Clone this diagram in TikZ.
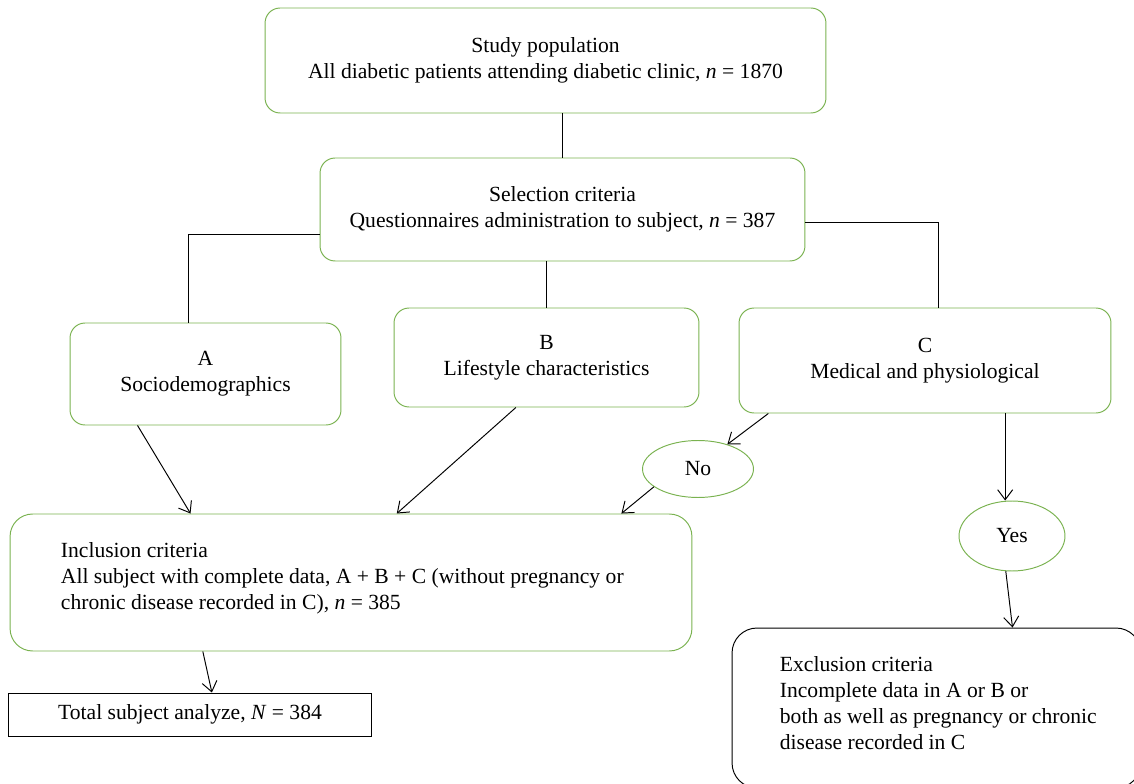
\documentclass[tikz,border=0pt]{standalone}
\usepackage{fontspec}
\setmainfont{Liberation Serif}
\usetikzlibrary{shapes.geometric,calc,arrows.meta}
\definecolor{boxgreen}{RGB}{122,178,80}
\begin{document}
\begin{tikzpicture}[x=0.02cm,y=-0.02cm,
    font=\fontsize{12.3pt}{14.8pt}\selectfont,
    gbox/.style={draw=boxgreen,line width=0.55pt,rounded corners=0.3cm,align=center,inner sep=0pt},
    gell/.style={draw=boxgreen,line width=0.55pt,ellipse,inner sep=0pt},
    kbox/.style={draw=black,line width=0.55pt,inner sep=0pt},
    btext/.style={align=left,anchor=west,inner sep=0pt},
    link/.style={line width=0.55pt},
    arr/.style={line width=0.55pt,-{Straight Barb[length=2mm,width=3mm]}}]
  \clip (0,0) rectangle (1134,784);
  \node[gbox,minimum width=11.22cm,minimum height=2.1cm] (study) at (545.5,60.5)
    {Study population\\All diabetic patients attending diabetic clinic, \textit{n} = 1870};
  \node[gbox,minimum width=9.7cm,minimum height=2.06cm] (sel) at (562.5,209.5)
    {Selection criteria\\Questionnaires administration to subject, \textit{n} = 387};
  \node[gbox,minimum width=5.42cm,minimum height=2.04cm] (A) at (205.5,374) {A\\Sociodemographics};
  \node[gbox,minimum width=6.1cm,minimum height=1.98cm] (B) at (546.5,357.5) {B\\Lifestyle characteristics};
  \node[gbox,minimum width=7.44cm,minimum height=2.1cm] (C) at (925,360.5) {C\\Medical and physiological};
  \node[gell,minimum width=2.22cm,minimum height=1.14cm] (no) at (698,469) {No};
  \node[gell,minimum width=2.12cm,minimum height=1.4cm] (yes) at (1012,536) {Yes};
  \node[gbox,rounded corners=0.45cm,minimum width=13.64cm,minimum height=2.74cm] (incl) at (351,582.5) {};
  \node[btext] (incltext) at ([xshift=1.02cm,yshift=0.09cm]incl.west)
    {Inclusion criteria\\All subject with complete data, A + B + C (without pregnancy or\\chronic disease recorded in C), \textit{n} = 385};
  \node[kbox,minimum width=7.28cm,minimum height=0.86cm] (total) at (190,714.5)
    {Total subject analyze, \textit{N} = 384};
  \node[kbox,rounded corners=0.5cm,minimum width=8.18cm,minimum height=3.2cm] (excl) at (936.5,708) {};
  \node[btext] (excltext) at ([xshift=0.96cm,yshift=0.1cm]excl.west)
    {Exclusion criteria\\Incomplete data in A or B or\\both as well as pregnancy or chronic\\disease recorded in C};
  \coordinate (cy) at ($(C.south west)!0.715!(C.south east)$);
  \begin{scope}[link]
    \draw (sel.north) -- (sel.north |- study.south);
    \draw ([yshift=-0.49cm]sel.west) -| ([xshift=-0.35cm]A.north);
    \draw ([yshift=-0.25cm]sel.east) -| ([xshift=0.26cm]C.north);
    \draw (B.north) -- (B.north |- sel.south);
  \end{scope}
  \begin{scope}[arr]
    \draw ($(A.south west)!0.25!(A.south east)$) -- ($(incl.north west)!0.265!(incl.north east)$);
    \draw ($(B.south west)!0.4!(B.south east)$) -- ($(incl.north west)!0.567!(incl.north east)$);
    \draw ($(C.south west)!0.08!(C.south east)$) -- (no.40);
    \draw (no.202) -- ($(incl.north west)!0.896!(incl.north east)$);
    \draw (cy) -- (cy |- yes.north);
    \draw (yes.260) -- ([xshift=5.62cm]excl.north west);
    \draw ($(incl.south west)!0.283!(incl.south east)$) -- ($(total.north west)!0.56!(total.north east)$);
  \end{scope}
\end{tikzpicture}
\end{document}
